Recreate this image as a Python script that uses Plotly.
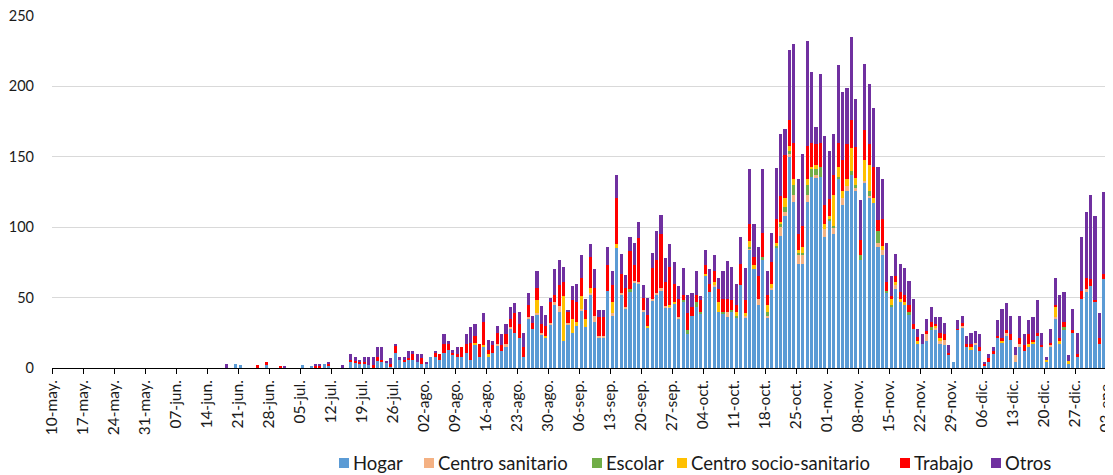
import plotly.graph_objects as go

tick_labels = ["10-may.", "17-may.", "24-may.", "31-may.", "07-jun.", "14-jun.", "21-jun.",
               "28-jun.", "05-jul.", "12-jul.", "19-jul.", "26-jul.", "02-ago.", "09-ago.",
               "16-ago.", "23-ago.", "30-ago.", "06-sep.", "13-sep.", "20-sep.", "27-sep.",
               "04-oct.", "11-oct.", "18-oct.", "25-oct.", "01-nov.", "08-nov.", "15-nov.",
               "22-nov.", "29-nov.", "06-dic.", "13-dic.", "20-dic.", "27-dic.", "03-ene."]

hogar = [
    0, 0, 0, 0, 0, 0, 0, 0, 0, 0,
    0, 0, 0, 0, 0, 0, 0, 0, 0, 0,
    0, 0, 0, 0, 0, 0, 0, 0, 0, 0,
    0, 0, 0, 0, 0, 0, 0, 0, 0, 0,
    0, 3, 2, 0, 0, 0, 0, 0, 2, 0,
    0, 0, 0, 0, 0, 0, 2, 0, 1, 0,
    0, 3, 2, 0, 0, 0, 0, 4, 4, 3,
    3, 2, 0, 5, 4, 4, 1, 11, 6, 4,
    6, 6, 4, 3, 3, 8, 8, 6, 11, 13,
    9, 8, 8, 11, 6, 17, 8, 15, 8, 11,
    16, 12, 15, 28, 25, 21, 8, 35, 28, 38,
    24, 21, 31, 45, 40, 19, 31, 25, 30, 41,
    29, 52, 33, 21, 21, 55, 37, 85, 52, 42,
    54, 61, 60, 40, 29, 48, 52, 55, 43, 43,
    46, 35, 47, 24, 37, 43, 39, 65, 54, 58,
    40, 39, 36, 40, 36, 59, 36, 84, 70, 45,
    77, 36, 56, 85, 94, 108, 150, 118, 74, 74,
    118, 136, 135, 136, 93, 105, 95, 134, 116, 126,
    137, 126, 77, 132, 121, 117, 86, 80, 53, 43,
    56, 47, 45, 38, 28, 17, 17, 19, 27, 27,
    17, 16, 9, 4, 27, 29, 15, 13, 17, 12,
    2, 4, 10, 21, 18, 23, 20, 4, 15, 12,
    15, 17, 23, 15, 4, 15, 35, 17, 27, 3,
    25, 8, 49, 54, 58, 47, 17, 63, 31]

centro_sanitario = [
    0, 0, 0, 0, 0, 0, 0, 0, 0, 0,
    0, 0, 0, 0, 0, 0, 0, 0, 0, 0,
    0, 0, 0, 0, 0, 0, 0, 0, 0, 0,
    0, 0, 0, 0, 0, 0, 0, 0, 0, 0,
    0, 0, 0, 0, 0, 0, 0, 0, 0, 0,
    0, 0, 0, 0, 0, 0, 0, 0, 0, 0,
    0, 0, 0, 0, 0, 0, 0, 0, 0, 0,
    0, 0, 0, 0, 0, 0, 0, 0, 0, 0,
    0, 0, 0, 0, 0, 0, 0, 0, 0, 0,
    0, 0, 0, 0, 0, 0, 0, 0, 0, 0,
    1, 0, 2, 1, 0, 0, 0, 1, 0, 1,
    1, 0, 1, 2, 4, 0, 1, 0, 0, 1,
    0, 1, 4, 2, 2, 0, 2, 0, 1, 1,
    0, 1, 1, 1, 0, 1, 1, 2, 1, 1,
    0, 1, 0, 0, 0, 0, 0, 0, 0, 1,
    0, 0, 4, 0, 0, 0, 1, 1, 0, 4,
    0, 1, 1, 0, 6, 3, 2, 5, 6, 6,
    5, 0, 2, 0, 6, 0, 5, 0, 5, 3,
    0, 2, 0, 1, 1, 0, 3, 4, 0, 0,
    3, 0, 0, 0, 0, 0, 0, 5, 0, 2,
    2, 4, 0, 0, 0, 1, 0, 0, 1, 0,
    0, 0, 0, 0, 0, 2, 0, 5, 2, 0,
    0, 0, 0, 0, 0, 1, 1, 0, 0, 0,
    0, 0, 0, 2, 0, 0, 0, 0, 0]

escolar = [
    0, 0, 0, 0, 0, 0, 0, 0, 0, 0,
    0, 0, 0, 0, 0, 0, 0, 0, 0, 0,
    0, 0, 0, 0, 0, 0, 0, 0, 0, 0,
    0, 0, 0, 0, 0, 0, 0, 0, 0, 0,
    0, 0, 0, 0, 0, 0, 0, 0, 0, 0,
    0, 0, 0, 0, 0, 0, 0, 0, 0, 0,
    0, 0, 0, 0, 0, 0, 0, 0, 0, 0,
    0, 0, 0, 0, 0, 0, 0, 0, 0, 0,
    0, 0, 0, 0, 0, 0, 0, 0, 0, 0,
    0, 0, 0, 0, 0, 0, 0, 0, 0, 0,
    0, 0, 0, 0, 0, 0, 0, 0, 0, 0,
    0, 0, 0, 0, 0, 0, 0, 0, 0, 0,
    0, 0, 0, 0, 0, 0, 0, 0, 0, 0,
    2, 0, 0, 0, 0, 0, 0, 0, 0, 0,
    0, 0, 1, 3, 0, 4, 1, 0, 0, 0,
    0, 1, 0, 1, 1, 0, 0, 1, 0, 0,
    2, 3, 0, 2, 2, 3, 2, 7, 2, 2,
    7, 6, 4, 7, 0, 1, 1, 2, 0, 0,
    3, 2, 3, 0, 4, 0, 8, 0, 2, 2,
    0, 0, 0, 2, 0, 0, 0, 0, 2, 0,
    0, 0, 0, 0, 0, 0, 0, 0, 0, 0,
    0, 0, 0, 0, 0, 0, 0, 0, 0, 0,
    0, 0, 0, 0, 0, 0, 0, 0, 2, 0,
    0, 0, 0, 0, 0, 0, 0, 0, 0]

centro_socio_sanitario = [
    0, 0, 0, 0, 0, 0, 0, 0, 0, 0,
    0, 0, 0, 0, 0, 0, 0, 0, 0, 0,
    0, 0, 0, 0, 0, 0, 0, 0, 0, 0,
    0, 0, 0, 0, 0, 0, 0, 0, 0, 0,
    0, 0, 0, 0, 0, 0, 0, 0, 0, 0,
    0, 0, 0, 0, 0, 0, 0, 0, 0, 0,
    0, 0, 0, 0, 0, 0, 0, 0, 0, 0,
    0, 0, 0, 0, 0, 0, 0, 0, 0, 0,
    0, 0, 0, 0, 0, 0, 0, 0, 0, 0,
    0, 0, 0, 0, 0, 1, 0, 1, 2, 0,
    0, 0, 0, 0, 0, 0, 0, 0, 0, 9,
    0, 2, 0, 0, 0, 32, 0, 10, 3, 9,
    6, 4, 0, 0, 0, 0, 8, 3, 0, 0,
    0, 0, 0, 0, 1, 0, 0, 0, 0, 1,
    1, 0, 0, 0, 0, 0, 0, 2, 0, 2,
    7, 0, 0, 0, 3, 0, 2, 4, 3, 0,
    0, 5, 3, 2, 2, 7, 4, 4, 2, 4,
    4, 1, 3, 0, 3, 2, 22, 7, 5, 5,
    16, 5, 0, 15, 18, 4, 0, 3, 0, 4,
    2, 2, 2, 0, 0, 2, 0, 0, 0, 1,
    2, 0, 0, 0, 0, 0, 0, 2, 0, 0,
    0, 0, 0, 0, 1, 0, 0, 0, 0, 0,
    2, 2, 0, 0, 2, 0, 7, 2, 0, 2,
    0, 0, 0, 0, 0, 0, 0, 0, 0]

trabajo = [
    0, 0, 0, 0, 0, 0, 0, 0, 0, 0,
    0, 0, 0, 0, 0, 0, 0, 0, 0, 0,
    0, 0, 0, 0, 0, 0, 0, 0, 0, 0,
    0, 0, 0, 0, 0, 0, 0, 0, 0, 0,
    0, 0, 0, 0, 0, 0, 2, 0, 2, 0,
    0, 1, 0, 0, 0, 0, 0, 0, 0, 2,
    2, 0, 1, 0, 0, 0, 0, 2, 1, 1,
    1, 0, 2, 3, 2, 0, 2, 5, 0, 2,
    1, 4, 0, 4, 0, 0, 3, 4, 6, 4,
    2, 2, 7, 6, 12, 5, 9, 17, 3, 5,
    8, 4, 7, 6, 14, 10, 7, 9, 4, 9,
    6, 7, 15, 5, 15, 10, 8, 13, 14, 13,
    6, 22, 20, 13, 13, 18, 12, 33, 14, 14,
    27, 11, 31, 9, 8, 22, 24, 38, 17, 27,
    13, 13, 4, 12, 6, 5, 8, 6, 6, 8,
    9, 9, 9, 7, 5, 15, 9, 12, 6, 16,
    17, 7, 15, 17, 18, 30, 18, 26, 11, 15,
    24, 17, 15, 17, 14, 12, 14, 17, 22, 25,
    20, 22, 11, 21, 15, 22, 8, 19, 6, 2,
    4, 5, 5, 5, 3, 3, 0, 2, 4, 1,
    4, 4, 2, 0, 1, 2, 2, 2, 0, 3,
    1, 3, 2, 2, 2, 2, 4, 0, 4, 4,
    7, 1, 2, 1, 0, 2, 2, 2, 4, 0,
    2, 2, 6, 8, 5, 1, 4, 4, 0]

otros = [
    0, 0, 0, 0, 0, 0, 0, 0, 0, 0,
    0, 0, 0, 0, 0, 0, 0, 0, 0, 0,
    0, 0, 0, 0, 0, 0, 0, 0, 0, 0,
    0, 0, 0, 0, 0, 0, 0, 0, 0, 3,
    0, 0, 0, 0, 0, 0, 0, 0, 0, 0,
    0, 0, 1, 0, 0, 0, 0, 0, 0, 1,
    1, 0, 1, 0, 0, 2, 0, 4, 3, 2,
    4, 6, 6, 7, 9, 1, 4, 1, 2, 2,
    5, 2, 6, 3, 1, 0, 1, 0, 7, 2,
    2, 5, 0, 7, 11, 8, 0, 6, 7, 3,
    5, 8, 7, 8, 7, 9, 10, 8, 5, 12,
    13, 8, 3, 18, 18, 11, 1, 10, 13, 16,
    8, 9, 13, 5, 5, 13, 10, 16, 14, 9,
    10, 16, 12, 9, 12, 11, 20, 14, 17, 16,
    15, 9, 19, 13, 10, 17, 3, 11, 10, 11,
    8, 20, 27, 24, 15, 19, 23, 39, 23, 21,
    45, 17, 21, 36, 44, 19, 50, 70, 39, 51,
    74, 50, 12, 49, 49, 34, 29, 55, 48, 40,
    59, 34, 28, 47, 43, 42, 38, 28, 28, 14,
    16, 20, 19, 17, 18, 6, 7, 9, 10, 5,
    11, 8, 5, 0, 6, 5, 6, 8, 8, 9,
    1, 3, 3, 11, 21, 19, 13, 6, 16, 8,
    10, 16, 23, 9, 2, 10, 19, 31, 21, 4,
    15, 15, 38, 47, 60, 60, 18, 58, 28]

series = [
    ("Hogar", hogar, "#5B9BD5"),
    ("Centro sanitario", centro_sanitario, "#F4B183"),
    ("Escolar", escolar, "#70AD47"),
    ("Centro socio-sanitario", centro_socio_sanitario, "#FFC000"),
    ("Trabajo", trabajo, "#FF0000"),
    ("Otros", otros, "#7030A0"),
]

legend_swatch_px = [339, 424, 592, 677, 900, 991]

n = len(hogar)
days = list(range(n))
FONT = "Lato, 'Open Sans', sans-serif"

# The page body has an 8px margin, so the figure is drawn 8px in from the corner.
OFF = 8
W, H = 1113 - OFF, 475 - OFF
L, R, T, B = 52 - OFF, 0, 16 - OFF, 107
PW, PH = W - L - R, H - T - B


def px_to_paper_x(px):
    return (px - OFF - L) / PW


def px_to_paper_y(py):
    return (H - B - (py - OFF)) / PH


fig = go.Figure()
for name, vals, color in series:
    fig.add_bar(x=days, y=vals, name=name, marker_color=color, marker_line_width=0,
                showlegend=False)

# custom legend, laid out like the reference
legend_cy = 463
for (name, _, color), sx in zip(series, legend_swatch_px):
    fig.add_shape(type="rect", xref="paper", yref="paper",
                  x0=px_to_paper_x(sx), x1=px_to_paper_x(sx + 10),
                  y0=px_to_paper_y(legend_cy + 5), y1=px_to_paper_y(legend_cy - 5),
                  fillcolor=color, line_width=0)
    fig.add_annotation(xref="paper", yref="paper", x=px_to_paper_x(sx + 12),
                       y=px_to_paper_y(legend_cy), xanchor="left", yanchor="middle",
                       text=name, showarrow=False,
                       font=dict(size=18.5, color="#1a1a1a", family=FONT))

fig.update_layout(
    barmode="stack", bargap=0.3,
    width=W, height=H,
    margin=dict(l=L, r=R, t=T, b=B, autoexpand=False),
    plot_bgcolor="white", paper_bgcolor="white",
    font=dict(family=FONT, color="#404040"),
    showlegend=False,
)
fig.update_xaxes(
    range=[-0.5, 239.07], tickmode="array",
    tickvals=[i - 0.5 for i in range(0, n, 7)], ticktext=tick_labels,
    tickangle=-90, ticks="outside", ticklen=5, tickcolor="#000000",
    showline=True, linecolor="#000000", linewidth=1, showgrid=False, zeroline=False,
    tickfont=dict(size=15.5, color="#1a1a1a"), automargin=False,
    ticklabeloverflow="allow",
)
fig.update_yaxes(
    range=[0, 250], dtick=50, gridcolor="#D9D9D9", gridwidth=1,
    showline=False, zeroline=False, ticklabelstandoff=17,
    tickfont=dict(size=14.5, color="#1a1a1a"), automargin=False,
    ticklabeloverflow="allow",
)

fig.write_html("out.html")
